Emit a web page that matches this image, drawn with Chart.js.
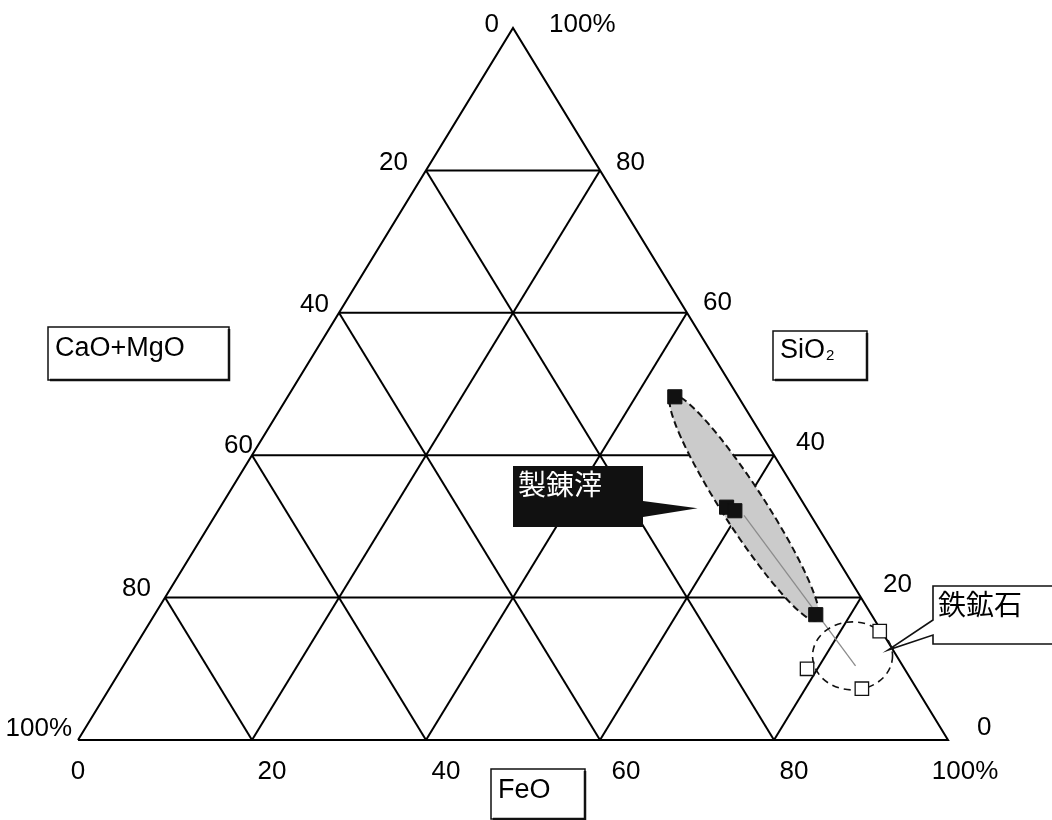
<!DOCTYPE html>
<html>
<head>
<meta charset="utf-8">
<script src="https://cdn.jsdelivr.net/npm/chart.js@4.4.0/dist/chart.umd.min.js"></script>
<style>
  html, body { margin: 0; padding: 0; background: #fff; }
</style>
</head>
<body>
<canvas id="my-chart" width="1052" height="820"></canvas>
<script>
'use strict';

/* DATA */
let gridSteps = [20, 40, 60, 80];
let tickValues = [0, 20, 40, 60, 80, 100];
let tickLabels = ['0', '20', '40', '60', '80', '100%'];

// 製錬滓 (slag) composition, %
let slagSiO2 = [48.2, 32.7, 32.2, 17.6];
let slagFeO = [44.5, 58.2, 59.4, 76.0];
let slagCaO = [7.3, 9.1, 8.4, 6.4];

// 鉄鉱石 (iron ore) composition, %
let oreSiO2 = [15.3, 10.0, 7.2];
let oreFeO = [84.5, 78.8, 86.5];
let oreCaO = [0.2, 11.2, 6.3];

/* TERNARY -> x/y (CaO+MgO bottom left, FeO bottom right, SiO2 top) */
function toXY(sio2, feo, cao) {
  let total = sio2 + feo + cao;
  let s = (sio2 / total) * 100;
  let f = (feo / total) * 100;
  return { x: f + s / 2, y: s };
}

function lineSet(points) {
  return {
    type: 'scatter',
    data: points,
    showLine: true,
    borderColor: '#000000',
    borderWidth: 2,
    pointRadius: 0,
    fill: false,
    order: 3,
    clip: false,
  };
}

let datasets = [];

datasets.push({
  label: 'slag',
  data: slagSiO2.map((s, i) => toXY(s, slagFeO[i], slagCaO[i])),
  pointStyle: 'rect',
  pointRadius: 10,
  backgroundColor: '#111111',
  borderColor: '#111111',
  borderWidth: 1,
  order: 1,
  clip: false,
});
datasets.push({
  label: 'ore',
  data: oreSiO2.map((s, i) => toXY(s, oreFeO[i], oreCaO[i])),
  pointStyle: 'rect',
  pointRadius: 9.5,
  backgroundColor: '#ffffff',
  borderColor: '#111111',
  borderWidth: 1.3,
  order: 2,
  clip: false,
});

// outline
datasets.push(lineSet([toXY(0, 0, 100), toXY(0, 100, 0), toXY(100, 0, 0), toXY(0, 0, 100)]));
// grid
gridSteps.forEach((k) => {
  datasets.push(lineSet([toXY(k, 0, 100 - k), toXY(k, 100 - k, 0)]));
  datasets.push(lineSet([toXY(0, k, 100 - k), toXY(100 - k, k, 0)]));
  datasets.push(lineSet([toXY(0, 100 - k, k), toXY(100 - k, 0, k)]));
});

/* DRAWING HELPERS */
const LATIN = '"Liberation Sans", Arial, sans-serif';
const CJK = '"Noto Sans CJK JP", sans-serif';

function px(chart, p) {
  return {
    x: chart.scales.x.getPixelForValue(p.x),
    y: chart.scales.y.getPixelForValue(p.y),
  };
}

function labelBox(ctx, x, y, w, h) {
  ctx.save();
  ctx.fillStyle = '#ffffff';
  ctx.fillRect(x, y, w, h);
  ctx.strokeStyle = '#111111';
  ctx.lineWidth = 1.5;
  ctx.strokeRect(x, y, w, h);
  ctx.lineWidth = 2.5;
  ctx.beginPath();
  ctx.moveTo(x + w, y + 2);
  ctx.lineTo(x + w, y + h);
  ctx.lineTo(x + 2, y + h);
  ctx.stroke();
  ctx.restore();
}

let ternaryPlugin = {
  id: 'ternaryDeco',
  beforeDatasetDraw(chart, args) {
    if (chart.data.datasets[args.index].label !== 'ore') return;
    let ctx = chart.ctx;
    let slag = chart.getDatasetMeta(0).data;
    let ore = chart.getDatasetMeta(1).data;
    let a = slag[0];
    let b = slag[slag.length - 1];
    let cx = (a.x + b.x) / 2 - 1;
    let cy = (a.y + b.y) / 2 + 2;
    let ang = Math.atan2(b.y - a.y, b.x - a.x);
    let half = Math.hypot(b.x - a.x, b.y - a.y) / 2 + 4;

    // slag mean / ore mean
    let sm = { x: 0, y: 0 };
    slag.forEach((p) => { sm.x += p.x / slag.length; sm.y += p.y / slag.length; });
    let om = { x: 0, y: 0 };
    ore.forEach((p) => { om.x += p.x / ore.length; om.y += p.y / ore.length; });

    ctx.save();
    // shaded ellipse
    ctx.beginPath();
    ctx.ellipse(cx, cy, half, 21, ang, 0, Math.PI * 2);
    ctx.fillStyle = '#cbcbcb';
    ctx.fill();
    ctx.setLineDash([7, 4]);
    ctx.lineWidth = 2;
    ctx.strokeStyle = '#111111';
    ctx.stroke();

    // trend line
    ctx.setLineDash([]);
    ctx.beginPath();
    ctx.moveTo(sm.x + 6, sm.y + 8);
    ctx.lineTo(om.x + 6, om.y + 3);
    ctx.lineWidth = 1.3;
    ctx.strokeStyle = '#8c8c8c';
    ctx.stroke();

    // dashed circle round ore
    ctx.beginPath();
    ctx.ellipse(om.x + 3, om.y - 7, 40, 34, 0, 0, Math.PI * 2);
    ctx.setLineDash([7, 5]);
    ctx.lineWidth = 1.6;
    ctx.strokeStyle = '#111111';
    ctx.stroke();
    ctx.restore();
  },
  afterDatasetsDraw(chart) {
    let ctx = chart.ctx;
    ctx.save();
    ctx.fillStyle = '#000000';
    ctx.font = '26px ' + LATIN;
    ctx.textBaseline = 'alphabetic';

    // CaO+MgO axis (left edge) : 0 at apex, 100% at bottom left
    let leftOff = [[-14, 4], [-18, 0], [-10, -1], [1, -2], [-14, -2], [-6, -4]];
    tickValues.forEach((k, i) => {
      let p = px(chart, toXY(100 - k, 0, k));
      ctx.textAlign = 'right';
      ctx.fillText(tickLabels[i], p.x + leftOff[i][0], p.y + leftOff[i][1]);
    });
    // SiO2 axis (right edge) : 100% at apex, 0 at bottom right
    let rightOff = [[29, -5], [22, -6], [22, -5], [16, -3], [16, 0], [36, 4]];
    tickValues.forEach((k, i) => {
      let p = px(chart, toXY(k, 100 - k, 0));
      ctx.textAlign = 'left';
      ctx.fillText(tickLabels[i], p.x + rightOff[i][0], p.y + rightOff[i][1]);
    });
    // FeO axis (bottom)
    let botOff = [0, 20, 20, 26, 20, 17];
    tickValues.forEach((k, i) => {
      let p = px(chart, toXY(0, k, 100 - k));
      ctx.textAlign = 'center';
      ctx.fillText(tickLabels[i], p.x + botOff[i], p.y + 39);
    });

    // axis name boxes
    labelBox(ctx, 48, 327, 181, 53);
    labelBox(ctx, 773, 331, 94, 49);
    labelBox(ctx, 491, 769, 94, 50);
    ctx.fillStyle = '#000000';
    ctx.textAlign = 'left';
    ctx.font = '27px ' + LATIN;
    ctx.fillText('CaO+MgO', 55, 356);
    ctx.fillText('FeO', 498, 798);
    ctx.fillText('SiO', 780, 358);
    ctx.font = '15px ' + LATIN;
    ctx.fillText('2', 826, 360);

    // callout 製錬滓
    let slagMid = chart.getDatasetMeta(0).data[1];
    let tipX = slagMid.x - 29;
    let tipY = slagMid.y + 1;
    ctx.fillStyle = '#111111';
    ctx.beginPath();
    ctx.moveTo(513, 466);
    ctx.lineTo(643, 466);
    ctx.lineTo(643, 501);
    ctx.lineTo(tipX, tipY);
    ctx.lineTo(643, 517);
    ctx.lineTo(643, 527);
    ctx.lineTo(513, 527);
    ctx.closePath();
    ctx.fill();
    ctx.fillStyle = '#ffffff';
    ctx.font = '28px ' + CJK;
    ctx.textBaseline = 'middle';
    ctx.fillText('製錬滓', 518, 484);

    // callout 鉄鉱石
    ctx.beginPath();
    ctx.moveTo(1060, 586);
    ctx.lineTo(933, 586);
    ctx.lineTo(933, 620);
    ctx.lineTo(888, 650);
    ctx.lineTo(933, 635);
    ctx.lineTo(933, 644);
    ctx.lineTo(1060, 644);
    ctx.fillStyle = '#ffffff';
    ctx.fill();
    ctx.strokeStyle = '#111111';
    ctx.lineWidth = 1.6;
    ctx.stroke();
    ctx.fillStyle = '#000000';
    ctx.font = '28px ' + CJK;
    ctx.fillText('鉄鉱石', 938, 604);
    ctx.restore();
  },
};

/* CHART */
let canvasElem = document.getElementById('my-chart').getContext('2d');
new Chart(canvasElem, {
  type: 'scatter',
  data: { datasets: datasets },
  options: {
    responsive: false,
    animation: false,
    layout: {
      padding: { left: 78, right: 104, top: 28, bottom: 80 },
    },
    scales: {
      x: { type: 'linear', min: 0, max: 100, display: false },
      y: { type: 'linear', min: 0, max: 100, display: false },
    },
    plugins: {
      legend: { display: false },
      tooltip: { enabled: false },
    },
  },
  plugins: [ternaryPlugin],
});
</script>
</body>
</html>
